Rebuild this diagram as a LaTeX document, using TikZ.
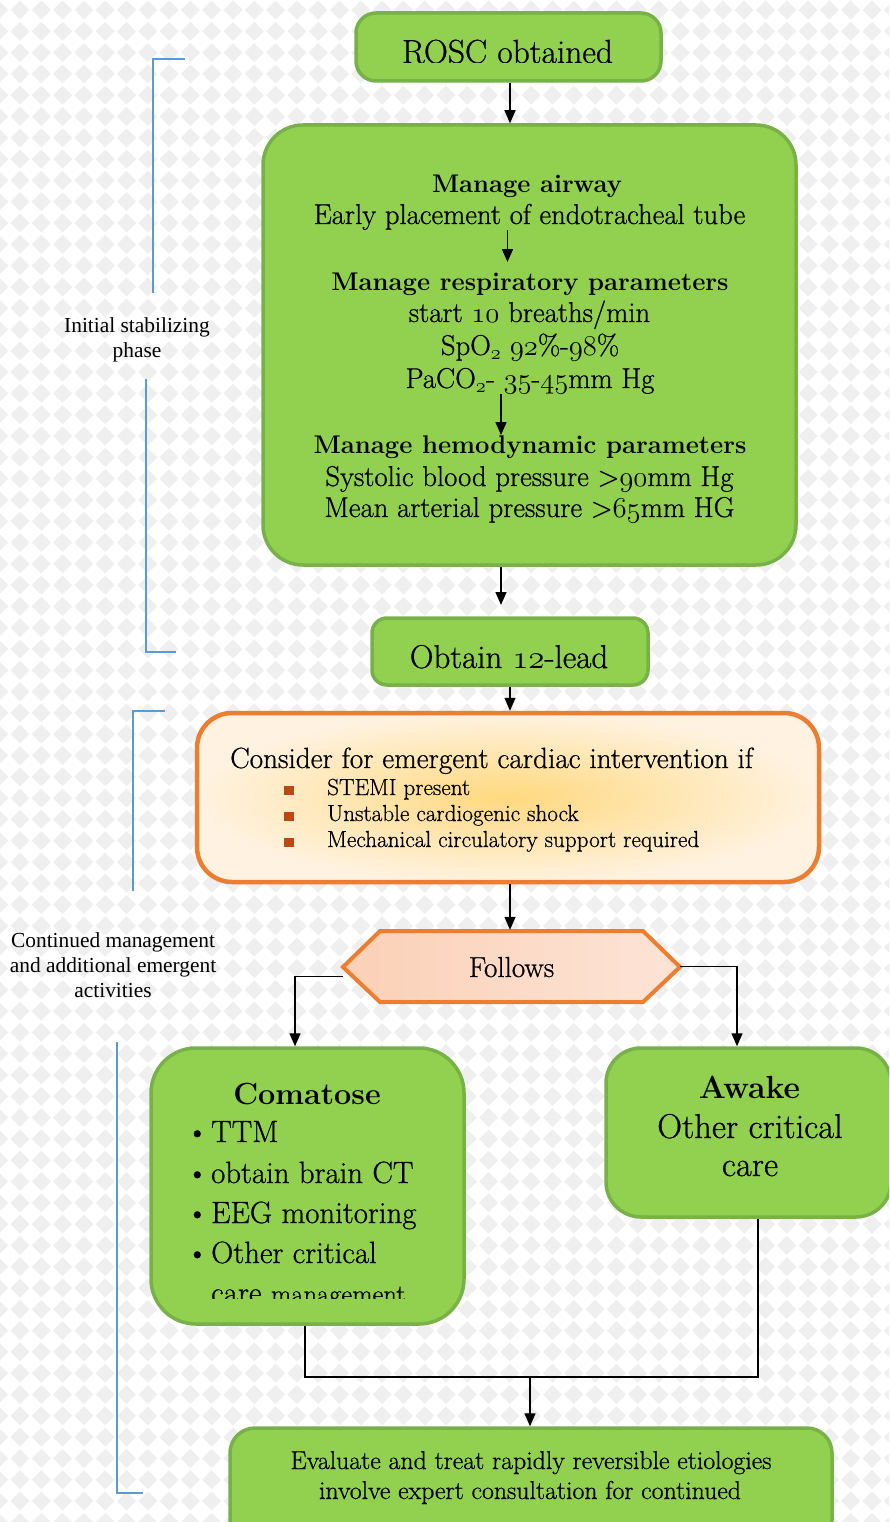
\RequirePackage{fix-cm}
\documentclass[tikz,border=0pt]{standalone}
\usepackage{fontspec}
\setmainfont{Latin Modern Roman}[UprightFeatures={FakeBold=0.7}]
\usetikzlibrary{arrows.meta}
\newfontfamily\sidefont{Liberation Serif}
% old-style figures taken from the math italic font
\newcommand\osn[1]{{\usefont{OML}{cmm}{m}{it}#1}}
\newcommand\fsz[1]{\fontsize{#1}{#1}\selectfont}
\definecolor{gfill}{HTML}{92D050}
\definecolor{gline}{HTML}{77B148}
\definecolor{oline}{HTML}{ED7D31}
\definecolor{ocen}{HTML}{FFD97F}
\definecolor{oout}{HTML}{FFF2E0}
\definecolor{hexl}{HTML}{FBD0B6}
\definecolor{hexr}{HTML}{FDE4D7}
\definecolor{bline}{HTML}{5B9BD5}
\definecolor{bgd}{HTML}{EFEFEF}
\definecolor{bul}{HTML}{B94A12}
\tikzset{
  arr/.style={draw=black, line width=1.4pt, -{Triangle[length=13pt,width=11pt]}},
  conn/.style={draw=black, line width=1.4pt},
  gbox/.style={draw=gline, line width=3.5pt, fill=gfill, rounded corners=#1, inner sep=0pt},
  tx/.style={inner sep=0pt, anchor=base},
  txl/.style={inner sep=0pt, anchor=base west},
  brk/.style={draw=bline, line width=2.5pt},
  sq/.style={fill=bul, minimum size=9.5pt, inner sep=0pt},
}
\begin{document}
\begin{tikzpicture}[x=1pt,y=-1pt]
\clip (0,0) rectangle (889,1522);
% diamond background
\fill[white] (0,0) rectangle (889,1522);
\fill[bgd] \foreach \i in {0,...,42} { \foreach \j in {0,...,72} {
  ({20+21.3*(\i-1)-9.5},{10+21.3*(\j-1)}) -- ++(9.5,-9.5) -- ++(9.5,9.5) -- ++(-9.5,9.5) -- cycle } };

% phase brackets
\draw[brk] (185,59) -- (153,59) -- (153,293);
\draw[brk] (146,379) -- (146,652) -- (176,652);
\draw[brk] (165,711) -- (133,711) -- (133,891);
\draw[brk] (117,1042) -- (117,1493) -- (143,1493);
\node[tx, font=\sidefont\fsz{21.4}] (ph1a) at (137,332) {Initial stabilizing};
\node[tx, font=\sidefont\fsz{21.4}] (ph1b) at (137,357) {phase};
\node[tx, font=\sidefont\fsz{21.4}] (ph2a) at (113,947) {Continued management};
\node[tx, font=\sidefont\fsz{21.4}] (ph2b) at (113,972) {and additional emergent};
\node[tx, font=\sidefont\fsz{21.4}] (ph2c) at (113,997) {activities};

% boxes
\node[gbox=20pt, minimum width=305pt, minimum height=68pt] (rosc) at (508.5,47) {};
\begin{scope}
  \clip (356,13) rectangle (661,62.5);
  \node[tx, font=\fsz{33.4}] (rosct) at (507.5,63) {ROSC obtained};
\end{scope}

\node[gbox=40pt, minimum width=533pt, minimum height=440pt] (manage) at (529.5,345) {};
\node[tx, font=\bfseries\fsz{25.5}] (air) at (527,193) {Manage airway};
\node[tx, font=\fsz{28.7}] (early) at (529.5,224) {Early placement of endotracheal tube};
\node[tx, font=\bfseries\fsz{25.6}] (resp) at (530,290) {Manage respiratory parameters};
\node[tx, font=\fsz{28.7}] (rate) at (529.5,322) {start \osn{10} breaths/min};
\node[tx, font=\fsz{28.7}] (spo) at (530,355) {SpO\textsubscript{\osn{2}} \osn{92}\%-\osn{98}\%};
\node[tx, font=\fsz{28.7}] (paco) at (530,388) {PaCO\textsubscript{\osn{2}}- \osn{35}-\osn{45}mm Hg};
\node[tx, font=\bfseries\fsz{25.6}] (hemo) at (530,453) {Manage hemodynamic parameters};
\node[tx, font=\fsz{28.7}] (sbp) at (529.5,486) {Systolic blood pressure >\osn{90}mm Hg};
\node[tx, font=\fsz{28.7}] (map) at (529.5,517) {Mean arterial pressure >\osn{65}mm HG};

\node[gbox=15pt, minimum width=276pt, minimum height=67pt] (lead) at (510,651.5) {};
\node[tx, font=\fsz{33}] (leadt) at (509,668) {Obtain \osn{12}-lead};

\node[draw=oline, line width=4.5pt, rounded corners=35pt, inner color=ocen, outer color=oout,
      minimum width=622pt, minimum height=169pt, inner sep=0pt] (consider) at (508,797.5) {};
\node[txl, font=\fsz{29.2}] (c0) at (230,768) {Consider for emergent cardiac intervention if};
\node[sq] (b1) at (289,790.5) {};
\node[sq] (b2) at (289,816.5) {};
\node[sq] (b3) at (289,842.5) {};
\node[txl, font=\fsz{23.2}] (c1) at (327,795) {STEMI present};
\node[txl, font=\fsz{23.2}] (c2) at (327,821) {Unstable cardiogenic shock};
\node[txl, font=\fsz{23.2}] (c3) at (327,847) {Mechanical circulatory support required};

% hexagon
\path[draw=oline, line width=4pt, left color=hexl, right color=hexr]
  (343,967) -- (380,931) -- (643,931) -- (680,967) -- (643,1002) -- (380,1002) -- cycle;
\node[minimum width=337pt, minimum height=73pt, inner sep=0pt] (follows) at (511.5,966.5) {};
\node[tx, font=\fsz{29}] (followst) at (511.5,977) {Follows};

\node[gbox=45pt, minimum width=313pt, minimum height=276pt] (coma) at (307.5,1186) {};
\node[tx, font=\bfseries\fsz{30.6}] (comat) at (307,1104) {Comatose};
\node[txl, font=\fsz{30.8}] (cm1) at (186,1142) {\makebox[25pt][l]{\textbullet}TTM};
\node[txl, font=\fsz{30.8}] (cm2) at (186,1183) {\makebox[25pt][l]{\textbullet}obtain brain CT};
\node[txl, font=\fsz{30.8}] (cm3) at (186,1223) {\makebox[25pt][l]{\textbullet}EEG monitoring};
\node[txl, font=\fsz{30.8}] (cm4) at (186,1263) {\makebox[25pt][l]{\textbullet}Other critical};
\begin{scope}
  \clip (151,1048) rectangle (464,1298);
  \node[txl, font=\fsz{31}] (cm5) at (211,1303) {care {\fsz{26.5}management}};
\end{scope}

\node[gbox=35pt, minimum width=285pt, minimum height=169pt] (awake) at (748.5,1132.5) {};
\node[tx, font=\bfseries\fsz{32}] (awt) at (749.5,1098) {Awake};
\node[tx, font=\fsz{34.5}] (aw1) at (750,1138) {Other critical};
\node[tx, font=\fsz{34.5}] (aw2) at (750,1176) {care};

\node[gbox=25pt, minimum width=602pt, minimum height=117pt] (evaluate) at (531,1486.5) {};
\node[tx, font=\fsz{25.8}] (ev1) at (531,1469) {Evaluate and treat rapidly reversible etiologies};
\node[tx, font=\fsz{25.8}] (ev2) at (530,1499) {involve expert consultation for continued};

% connectors
\coordinate (leadin) at (501,605);
\coordinate (jn) at (530,1377);
\draw[arr] ([xshift=1.5pt]rosc.south) -- ([xshift=1.5pt]rosc.south |- manage.north);
\draw[arr] ([xshift=-22pt]early.south) -- ++(0,32);
\draw[arr] ([xshift=-29pt]paco.south) -- ++(0,41);
\draw[arr] (manage.south -| leadin) -- (leadin);
\draw[arr] (lead.south) -- (lead.south |- consider.north);
\draw[arr] (lead.south |- consider.south) -- (lead.south |- follows.north);
\draw[arr] ([yshift=-10pt]follows.west) -| ([xshift=-12.5pt]coma.north);
\draw[arr] (follows.east) -| ([xshift=-11.5pt]awake.north);
\draw[conn] ([xshift=-2.5pt]coma.south) |- (jn) -| ([xshift=9.5pt]awake.south);
\draw[arr] (jn) -- (jn |- evaluate.north);
\end{tikzpicture}
\end{document}
